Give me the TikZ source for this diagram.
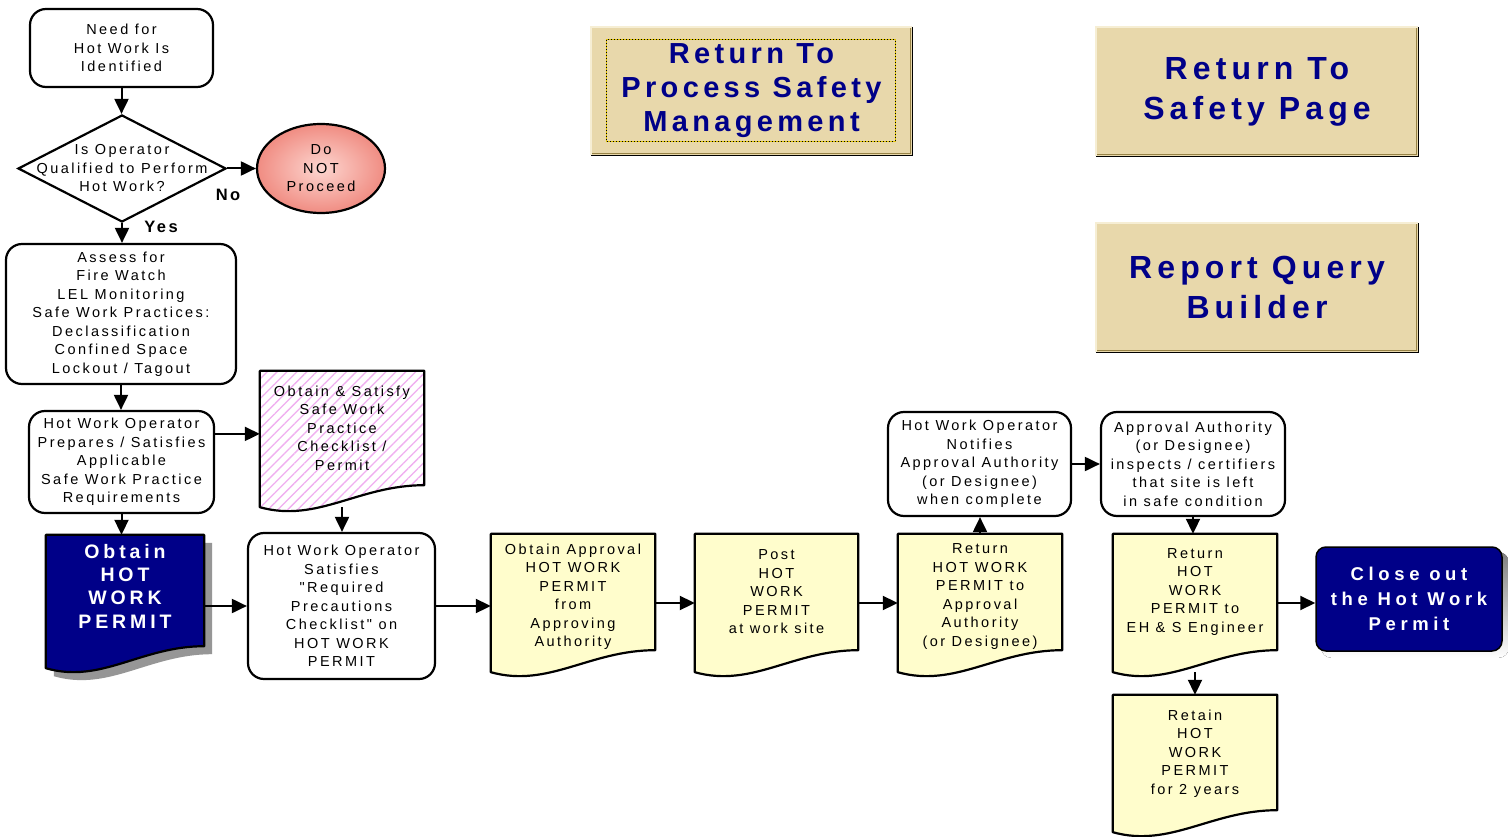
\documentclass[tikz,border=0pt]{standalone}
\usepackage{fontspec}
\setmainfont[Ligatures=TeXOff]{Liberation Sans}
\usetikzlibrary{shapes.geometric,arrows.meta,calc,backgrounds,patterns.meta}

\definecolor{navy}{RGB}{0,0,136}
\definecolor{tan}{RGB}{232,216,171}
\definecolor{tanlight}{RGB}{246,238,212}
\definecolor{tandark}{RGB}{150,130,70}
\definecolor{paper}{RGB}{255,253,204}
\definecolor{hatch}{RGB}{240,175,240}
\definecolor{salmonin}{RGB}{253,214,208}
\definecolor{salmonout}{RGB}{240,140,130}
\definecolor{shade}{RGB}{150,150,150}
\definecolor{dotyellow}{RGB}{225,195,0}

\newcommand{\bodyfont}{\fontsize{14.5}{18.5}\selectfont\addfontfeatures{LetterSpace=17}}
\newcommand{\whitefont}{\bfseries\fontsize{19.5}{23.3}\selectfont\addfontfeatures{LetterSpace=20}}
\newcommand{\closefont}{\bfseries\fontsize{18.5}{25}\selectfont\addfontfeatures{LetterSpace=25}}
\newcommand{\psmfont}{\bfseries\fontsize{29}{34}\selectfont\addfontfeatures{LetterSpace=15}}
\newcommand{\btnfont}{\bfseries\fontsize{32}{40}\selectfont\addfontfeatures{LetterSpace=16}}
\newcommand{\lblfont}{\bfseries\fontsize{16.5}{18}\selectfont\addfontfeatures{LetterSpace=15}}

% document symbol: flat top, straight sides, wavy bottom (left end low, right end high)
% #1 node, #2 path options, #3 offset
\newcommand{\docpath}[3]{%
  \path[#2] ($(#1.north west)+(#3)$) -- ($(#1.north east)+(#3)$)
    -- ($(#1.south east)+(#3)+(0,-22)$)
    .. controls ($(#1.south west)!0.6!(#1.south east)+(#3)+(0,-22)$)
            and ($(#1.south west)!0.35!(#1.south east)+(#3)+(0,16)$)
    .. ($(#1.south west)+(#3)$) -- cycle;}

\tikzset{
  arr/.style={line width=2pt, -{Triangle[length=15pt,width=14pt]}},
  proc/.style={draw, line width=2.2pt, rounded corners=16pt, fill=white,
    align=center, inner sep=0pt, font=\bodyfont},
  txt/.style={align=center, font=\bodyfont, inner sep=0pt},
  anchorbox/.style={rectangle, inner sep=0pt, draw=none},
  docline/.style={draw, line width=2.2pt, line join=round},
  button/.style={fill=tan, inner sep=0pt, align=center, text=navy},
  lbl/.style={font=\lblfont, inner sep=0pt}
}

\begin{document}
\begin{tikzpicture}[x=1pt,y=-1pt]
\useasboundingbox (0,0) rectangle (1508,837);

% ---------- left column ----------
\node[proc, minimum width=183pt, minimum height=78pt] (need) at (121.5,48)
  {Need for\\Hot Work Is\\Identified};
\node[diamond, draw, line width=2.2pt, fill=white, minimum width=208pt,
  minimum height=107pt, inner sep=0pt] (q) at (122,168.5) {};
\node[txt] (qt) at (q.center) {Is Operator\\Qualified to Perform\\Hot Work?};
\node[ellipse, draw, line width=2.2pt, minimum width=128pt, minimum height=89pt,
  inner color=salmonin, outer color=salmonout, align=center, font=\bodyfont,
  inner sep=0pt] (stop) at (321,168.5) {Do\\NOT\\Proceed};
\node[lbl] (no) at (228,195) {No};
\node[lbl] (yes) at (161,227) {Yes};

\node[proc, minimum width=230pt, minimum height=140pt] (assess) at (121,314)
  {Assess for\\Fire Watch\\LEL Monitoring\\Safe Work Practices:\\Declassification\\Confined Space\\Lockout / Tagout};
\node[proc, minimum width=185pt, minimum height=102pt] (prep) at (121.5,462)
  {Hot Work Operator\\Prepares / Satisfies\\Applicable\\Safe Work Practice\\Requirements};

% ---------- document symbols (outlines on the background layer) ----------
\node[anchorbox, minimum width=164pt, minimum height=136pt] (pink) at (342,439) {};
\node[txt] (pinkt) at (342,428) {Obtain \& Satisfy\\Safe Work\\Practice\\Checklist /\\Permit};

\node[anchorbox, minimum width=158pt, minimum height=133pt] (blue) at (125,601.5) {};
\node[txt, text=white, font=\whitefont] (bluet) at (125,586) {Obtain\\HOT\\WORK\\PERMIT};

\node[proc, minimum width=187pt, minimum height=146pt] (sat) at (341.5,606)
  {Hot Work Operator\\Satisfies\\"Required\\Precautions\\Checklist" on\\HOT WORK\\PERMIT};

\node[anchorbox, minimum width=164pt, minimum height=138pt] (appr) at (573,603) {};
\node[txt] (apprt) at (573,596.5) {Obtain Approval\\HOT WORK\\PERMIT\\from\\Approving\\Authority};

\node[anchorbox, minimum width=163pt, minimum height=138pt] (post) at (776.5,603) {};
\node[txt] (postt) at (776.5,592) {Post\\HOT\\WORK\\PERMIT\\at work site};

\node[anchorbox, minimum width=164pt, minimum height=138pt] (ret1) at (980,603) {};
\node[txt] (ret1t) at (980,596.5) {Return\\HOT WORK\\PERMIT to\\Approval\\Authority\\(or Designee)};

\node[proc, minimum width=183pt, minimum height=104pt] (notif) at (979.5,464)
  {Hot Work Operator\\Notifies\\Approval Authority\\(or Designee)\\when complete};
\node[proc, minimum width=184pt, minimum height=104pt] (insp) at (1193,464)
  {Approval Authority\\(or Designee)\\inspects / certifiers\\that site is left\\in safe condition};

\node[anchorbox, minimum width=164pt, minimum height=138pt] (ret2) at (1195,603) {};
\node[txt] (ret2t) at (1195,592) {Return\\HOT\\WORK\\PERMIT to\\EH \& S Engineer};

\node[anchorbox, minimum width=164pt, minimum height=137pt] (retain) at (1195,763.5) {};
\node[txt] (retaint) at (1195,753.5) {Retain\\HOT\\WORK\\PERMIT\\for 2 years};

\node[fill=navy, draw=black, line width=1.5pt, rounded corners=10pt,
  minimum width=186pt, minimum height=104pt, text=white, font=\closefont,
  align=center, inner sep=0pt] (close) at (1409,599) {Close out\\the Hot Work\\Permit};

% ---------- link buttons ----------
\node[button, font=\psmfont, minimum width=321pt, minimum height=128pt] (psm)
  at (751.5,91) {Return To\\Process Safety\\Management};
\node[button, font=\btnfont, minimum width=322pt, minimum height=129pt] (safe)
  at (1257,91.5) {Return To\\Safety Page};
\node[button, font=\btnfont, minimum width=322pt, minimum height=129pt] (rqb)
  at (1257,287.5) {Report Query\\Builder};

\foreach \b in {psm,safe,rqb}{
  \draw[line width=1.5pt, tanlight] (\b.south west) -- (\b.north west) -- (\b.north east);
  \draw[line width=1.5pt, tandark] ($(\b.north east)+(-1.5,1.5)$) -- ($(\b.south east)+(-1.5,-1.5)$) -- ($(\b.south west)+(1.5,-1.5)$);
  \draw[line width=1.2pt, black] (\b.north east) -- (\b.south east) -- (\b.south west);
}
\draw[line width=1pt, dotyellow] ($(psm.north west)+(16,13)$) rectangle ($(psm.south east)+(-17,-14)$);
\draw[line width=1pt, black, dotted] ($(psm.north west)+(16,13)$) rectangle ($(psm.south east)+(-17,-14)$);

% ---------- background shapes ----------
\begin{pgfonlayer}{background}
  \fill[white] (0,0) rectangle (1508,837);
  \docpath{pink}{fill=white}{0,0}
  \docpath{pink}{pattern={Lines[angle=45,distance=7pt,line width=1.3pt]}, pattern color=hatch}{0,0}
  \docpath{pink}{docline}{0,0}
  \docpath{blue}{fill=shade}{8,8}
  \docpath{blue}{fill=navy, docline}{0,0}
  \foreach \d in {appr,post,ret1,ret2,retain}{
    \docpath{\d}{fill=paper, docline}{0,0}
  }
  \fill[shade, rounded corners=10pt] ($(close.north west)+(6,6)$) rectangle ($(close.south east)+(6,6)$);
\end{pgfonlayer}

% ---------- connectors ----------
\draw[arr] (need.south) -- (need.south |- q.north);
\draw[arr] (q.east) -- (stop.west);
\draw[arr] (q.south) -- (q.south |- assess.north);
\draw[arr] (assess.south) -- (assess.south |- prep.north);
\coordinate (pa) at ($(prep.north east)+(0,24)$);
\draw[arr] (pa) -- (pa -| pink.west);
\draw[arr] (pink.south) -- (pink.south |- sat.north);
\draw[arr] (prep.south) -- (prep.south |- blue.north);
\draw[arr] (sat.west -| blue.east) -- (sat.west);
\draw[arr] (sat.east) -- (sat.east -| appr.west);
\draw[arr] (appr.east) -- (post.west);
\draw[arr] (post.east) -- (ret1.west);
\draw[arr] (ret1.north) -- (ret1.north |- notif.south);
\draw[arr] (notif.east) -- (insp.west);
\draw[arr] (insp.south) -- (insp.south |- ret2.north);
\draw[arr] (ret2.east) -- (ret2.east -| close.west);
\draw[arr] (ret2.south) -- (ret2.south |- retain.north);
\end{tikzpicture}
\end{document}
